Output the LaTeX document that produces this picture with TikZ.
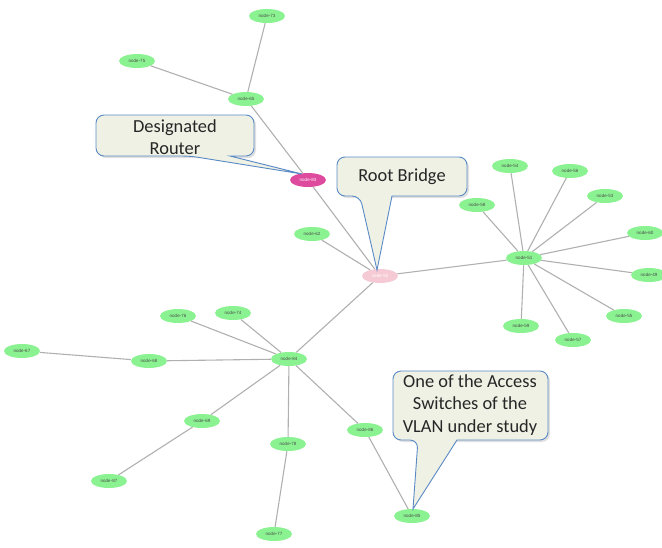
\documentclass[tikz,border=0pt]{standalone}
\usepackage{fontspec}
\setmainfont{Carlito}
\newfontfamily\nodefont{Liberation Sans}
\usetikzlibrary{shapes.geometric}
\definecolor{leafgreen}{HTML}{8AF290}
\definecolor{routermag}{HTML}{DE4A9E}
\definecolor{rootpink}{HTML}{F6CAD4}
\definecolor{edgegray}{HTML}{B0B0B0}
\definecolor{callfill}{HTML}{EEF1E4}
\definecolor{callline}{HTML}{5A8AC6}
\begin{document}
\begin{tikzpicture}[x=1pt,y=-1pt,
  netnode/.style={ellipse,minimum width=36pt,minimum height=14pt,inner sep=0pt,
    font=\nodefont\fontsize{4.5}{4.5}\selectfont,text=black!70},
  leaf/.style={netnode,fill=leafgreen},
  link/.style={draw=edgegray,line width=1.1pt},
  callshape/.style={fill=callfill,draw=callline,line width=0.9pt},
  callshadow/.style={fill=black!12},
  calltext/.style={font=\fontsize{18.4}{22.5}\selectfont,align=center,text=black!85}]
\useasboundingbox (0,0) rectangle (662,547);
% nodes
\node[leaf] (n73) at (267,16) {node-73};
\node[leaf] (n75) at (137,61) {node-75};
\node[leaf] (n65) at (246,99) {node-65};
\node[netnode,fill=routermag,text=white] (n83) at (308,180) {node-83};
\node[leaf] (n62) at (312,234) {node-62};
\node[netnode,fill=rootpink,text=white] (n52) at (380,276) {node-52};
\node[leaf] (n51) at (524,258) {node-51};
\node[leaf] (n58) at (477,205) {node-58};
\node[leaf] (n54) at (510,166) {node-54};
\node[leaf] (n56) at (570,171) {node-56};
\node[leaf] (n53) at (605,196) {node-53};
\node[leaf] (n60) at (645,233) {node-60};
\node[leaf] (n49) at (649,275) {node-49};
\node[leaf] (n55) at (624,316) {node-55};
\node[leaf] (n59) at (521,326) {node-59};
\node[leaf] (n57) at (573,340) {node-57};
\node[leaf] (n84) at (289,359) {node-84};
\node[leaf] (n76) at (178,316) {node-76};
\node[leaf] (n74) at (233,313) {node-74};
\node[leaf] (n68) at (149,361) {node-68};
\node[leaf] (n67) at (22,351) {node-67};
\node[leaf] (n69) at (202,421) {node-69};
\node[leaf] (n87) at (109,481) {node-87};
\node[leaf] (n78) at (288,444) {node-78};
\node[leaf] (n77) at (274,534) {node-77};
\node[leaf] (n86) at (365,430) {node-86};
\node[leaf] (n85) at (412,516) {node-85};
% links
\draw[link] (n73) -- (n65);
\draw[link] (n75) -- (n65);
\draw[link] (n65) -- (n83);
\draw[link] (n83) -- (n52);
\draw[link] (n62) -- (n52);
\draw[link] (n52) -- (n51);
\draw[link] (n52) -- (n84);
\foreach \t in {n58,n54,n56,n53,n60,n49,n55,n59,n57} \draw[link] (n51) -- (\t);
\foreach \t in {n76,n74,n68,n69,n78,n86} \draw[link] (n84) -- (\t);
\draw[link] (n68) -- (n67);
\draw[link] (n69) -- (n87);
\draw[link] (n78) -- (n77);
\draw[link] (n86) -- (n85);
% callout: Designated Router
\coordinate (drtip) at (302,174);
\fill[callshadow,rounded corners=8pt] (98,117) rectangle (256,158);
\draw[callshape] (190,156) [sharp corners]-- (drtip) -- (230,156) [rounded corners=8pt]-- (254,156) -- (254,115) -- (96,115) -- (96,156) -- cycle;
\node[calltext] (drtext) at (175,137) {Designated\\Router};
% callout: Root Bridge
\coordinate (rbtip) at (377,270);
\fill[callshadow,rounded corners=8pt] (339,159) rectangle (469,198);
\draw[callshape] (360,196) [sharp corners]-- (rbtip) -- (392,196) [rounded corners=8pt]-- (467,196) -- (467,157) -- (337,157) -- (337,196) -- cycle;
\node[calltext] (rbtext) at (402,177) {Root Bridge};
% callout: Access switch
\coordinate (astip) at (413,509);
\fill[callshadow,rounded corners=8pt] (395,373) rectangle (550,442);
\draw[callshape] (418,440) [sharp corners]-- (astip) -- (457,440) [rounded corners=8pt]-- (548,440) -- (548,371) -- (393,371) -- (393,440) -- cycle;
\node[calltext] (astext) at (470,405) {One of the Access\\Switches of the\\VLAN under study};
\end{tikzpicture}
\end{document}
